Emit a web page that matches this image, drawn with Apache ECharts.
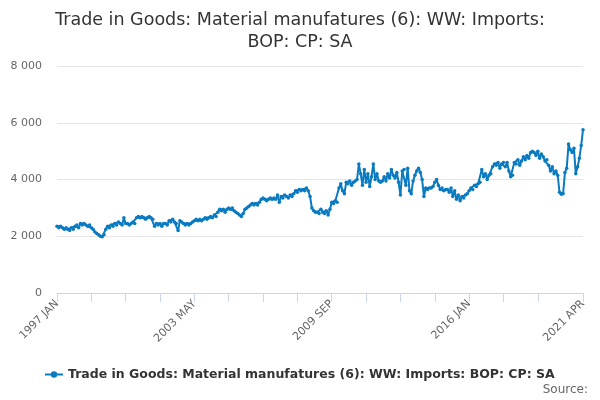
<!DOCTYPE html>
<html>
<head>
<meta charset="utf-8">
<script src="https://cdn.jsdelivr.net/npm/echarts@6/dist/echarts.min.js"></script>
<style>
html,body{margin:0;padding:0;background:#fff;}
#chart{width:600px;height:400px;}
</style>
</head>
<body>
<div id="chart"></div>
<script>
var seriesName = 'Trade in Goods: Material manufatures (6): WW: Imports: BOP: CP: SA';
var startYear = 1997;
var monthNames = ['JAN','FEB','MAR','APR','MAY','JUN','JUL','AUG','SEP','OCT','NOV','DEC'];
var labelIdx = [0, 76, 152, 228, 291];
var yTicks = [0, 2000, 4000, 6000, 8000];

// £ million, one row per year, Jan..Dec
var imports = [
    2350,2300,2350,2300,2250,2300,2250,2200,2300,2250,2350,2400, // 1997
    2300,2450,2400,2450,2400,2350,2400,2300,2250,2150,2100,2050, // 1998
    2000,1980,2050,2250,2350,2300,2400,2350,2450,2400,2500,2450, // 1999
    2400,2650,2450,2450,2400,2450,2500,2450,2650,2700,2650,2700, // 2000
    2650,2600,2650,2700,2650,2600,2350,2450,2400,2450,2350,2450, // 2001
    2450,2400,2550,2500,2600,2500,2450,2200,2550,2500,2450,2400, // 2002
    2450,2400,2450,2500,2550,2600,2550,2600,2550,2600,2650,2600, // 2003
    2650,2700,2650,2750,2700,2850,2950,2900,2950,2850,2950,3000, // 2004
    2950,3000,2900,2850,2800,2750,2700,2800,2950,3000,3050,3100, // 2005
    3150,3100,3150,3100,3200,3300,3350,3300,3250,3300,3350,3300, // 2006
    3350,3300,3450,3200,3400,3350,3450,3400,3350,3450,3400,3500, // 2007
    3600,3550,3650,3600,3650,3600,3700,3600,3400,3000,2900,2850, // 2008
    2850,2800,2950,2850,2800,2900,2750,2950,3200,3150,3250,3200, // 2009
    3700,3850,3600,3500,3900,3850,3950,3800,3900,3950,4000,4550, // 2010
    4200,3800,4350,3900,4200,3750,4100,4550,4000,4200,3950,3900, // 2011
    3950,4100,3950,4200,4050,4350,4150,4050,4250,3900,3450,4300, // 2012
    4350,3800,4400,3600,3500,3950,4150,4300,4400,4250,4000,3400, // 2013
    3700,3650,3700,3700,3750,3900,4000,3800,3650,3700,3600,3650, // 2014
    3650,3550,3700,3400,3600,3300,3450,3250,3400,3350,3450,3500, // 2015
    3600,3700,3650,3800,3750,3850,3900,4350,4100,4200,4000,4150, // 2016
    4200,4450,4550,4500,4600,4400,4550,4600,4450,4600,4300,4100, // 2017
    4150,4600,4550,4700,4500,4650,4800,4700,4850,4750,4950,5000, // 2018
    4950,4850,5000,4750,4900,4800,4650,4700,4500,4300,4450,4200, // 2019
    4300,4150,3550,3480,3500,4250,4400,5250,5050,4950,5100,4200, // 2020
    4450,4750,5200,5750                                          // 2021
];

var categories = [];
for (var i = 0; i < imports.length; i++) {
    categories.push((startYear + Math.floor(i / 12)) + ' ' + monthNames[i % 12]);
}

var chart = echarts.init(document.getElementById('chart'));
var option = {
    animation: false,
    textStyle: { fontFamily: 'DejaVu Sans' },
    title: {
        text: 'Trade in Goods: Material manufatures (6): WW: Imports:\nBOP: CP: SA',
        left: 'center',
        top: 4,
        textStyle: {
            color: '#333333',
            fontSize: 17.5,
            fontWeight: 'normal',
            lineHeight: 22,
            fontFamily: 'DejaVu Sans'
        }
    },
    legend: {
        data: [seriesName],
        left: 39,
        top: 363,
        itemWidth: 18,
        itemHeight: 8,
        itemGap: 6,
        textStyle: {
            color: '#333333',
            fontSize: 12.5,
            fontWeight: 'bold',
            fontFamily: 'DejaVu Sans'
        }
    },
    graphic: [{
        type: 'text',
        right: 12,
        top: 384,
        style: {
            text: 'Source:',
            fill: '#666666',
            font: '12px "DejaVu Sans"'
        }
    }],
    grid: {
        left: 57,
        right: 17,
        top: 66,
        bottom: 107,
        containLabel: false
    },
    xAxis: {
        type: 'category',
        boundaryGap: false,
        data: categories,
        axisLine: { lineStyle: { color: '#ccd6eb' } },
        axisTick: {
            length: 9,
            lineStyle: { color: '#ccd6eb' },
            interval: function (idx) {
                return (idx % 19 === 0 && idx <= 266) || idx === imports.length - 1;
            }
        },
        axisLabel: {
            rotate: 45,
            color: '#666666',
            fontSize: 11,
            margin: 9,
            interval: function (idx) {
                return labelIdx.indexOf(idx) >= 0;
            }
        },
        splitLine: { show: false }
    },
    yAxis: {
        type: 'value',
        min: yTicks[0],
        max: yTicks[yTicks.length - 1],
        interval: yTicks[1] - yTicks[0],
        axisLine: { show: false },
        axisTick: { show: false },
        axisLabel: {
            color: '#666666',
            fontSize: 11,
            margin: 15,
            formatter: function (v) {
                return String(v).replace(/\B(?=(\d{3})+(?!\d))/g, ' ');
            }
        },
        splitLine: { lineStyle: { color: '#e6e6e6' } }
    },
    series: [{
        name: seriesName,
        type: 'line',
        data: imports,
        color: '#0a7ac1',
        symbol: 'circle',
        symbolSize: 3.5,
        showAllSymbol: true,
        lineStyle: { width: 2 },
        emphasis: { disabled: true }
    }]
};
chart.setOption(option);
</script>
</body>
</html>
